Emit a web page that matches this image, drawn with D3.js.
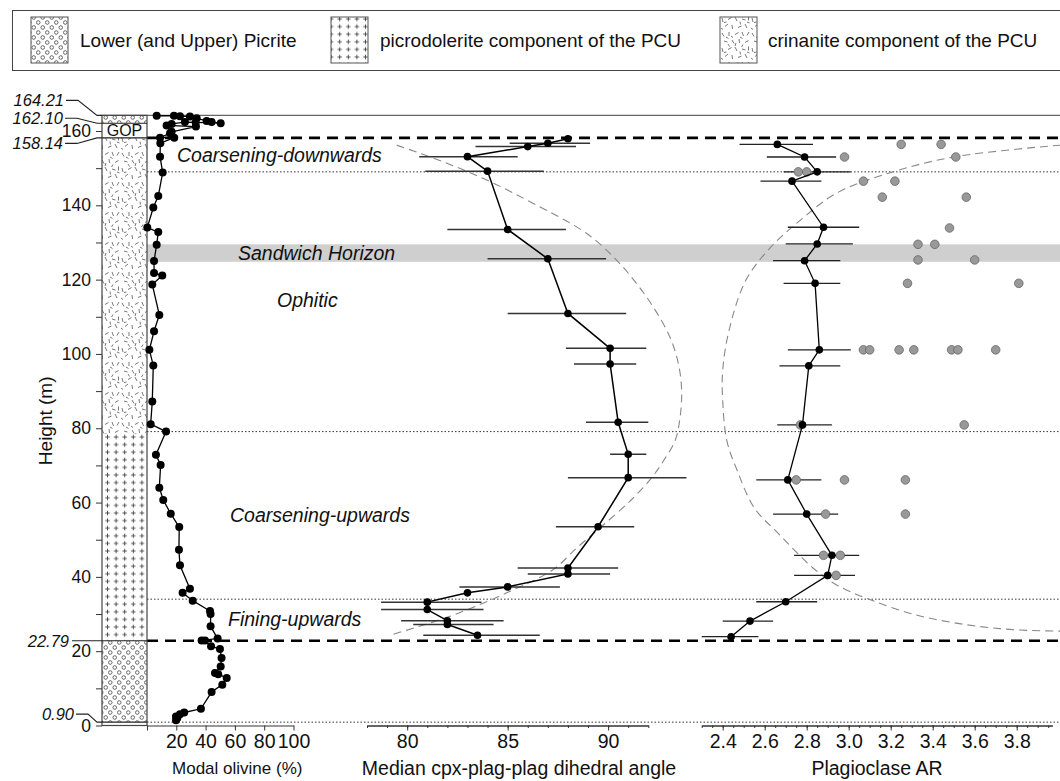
<!DOCTYPE html>
<html><head><meta charset="utf-8">
<script src="https://cdn.jsdelivr.net/npm/d3@7"></script>
<style>
body{margin:0;background:#fff}
text{font-family:"Liberation Sans",Arial,Helvetica,sans-serif;fill:#111}
</style>
</head><body>
<svg id="chart" width="1060" height="781"></svg>
<script>
// ---------- data ----------
// Modal olivine (%) down the section, in sample order
const olivineHeight = [164.1,164.1,164.0,163.9,163.4,162.7,162.4,162.1,162.3,162.4,161.9,161.5,161.2,159.8,159.4,158.2,158.2,156.7,153.1,148.8,142.5,139.4,134.0,132.8,129.4,125.0,121.8,121.1,118.7,110.5,106.1,101.1,96.9,87.2,81.1,79.1,72.9,70.1,64.0,60.7,57.0,53.4,47.3,43.1,36.8,35.7,33.6,30.8,30.0,26.7,23.4,22.9,22.9,21.3,20.6,18.2,15.9,14.1,13.8,12.8,11.0,9.0,4.5,3.5,3.0,2.4,2.0,1.4];
const olivinePct    = [6.6,18.4,22.5,29.3,33.9,40.7,44.1,50.3,33.2,25.9,16.8,13.4,33.4,16.8,15.7,8.9,18.6,9.1,8.9,10.7,7.7,4.3,0.2,7.7,6.6,4.8,4.8,10.4,3.6,8.4,4.8,1.6,4.3,3.6,2.5,13.0,6.1,9.3,8.4,11.1,16.2,22.0,21.8,22.5,29.3,24.3,31.2,43.0,43.4,43.4,48.2,37.3,39.6,43.7,49.8,50.9,50.3,46.4,48.6,54.4,51.4,44.1,36.8,25.4,22.5,19.8,20.7,19.8];

// Median cpx-plag-plag dihedral angle with its range
const angleHeight = [157.9,156.7,155.8,153.1,149.2,133.5,125.6,110.9,101.5,97.3,81.6,73.0,66.7,53.5,42.4,40.8,37.3,35.7,33.2,31.2,28.2,27.2,24.3];
const angleMedian = [88.0,87.0,86.0,83.0,84.0,85.0,87.0,88.0,90.1,90.1,90.5,91.0,91.0,89.5,88.0,88.0,85.0,83.0,81.0,81.0,82.0,82.0,83.5];
const angleLow    = [null,85.1,83.4,80.6,80.9,82.0,84.0,85.0,87.9,88.3,88.9,90.1,88.0,87.4,85.5,86.0,82.6,null,78.7,78.7,79.7,80.3,80.8];
const angleHigh   = [null,89.1,88.4,85.5,86.8,87.9,89.9,90.9,91.9,91.4,92.0,91.9,93.9,91.3,90.5,90.1,87.6,null,83.7,83.8,84.8,84.3,86.6];

// Plagioclase aspect ratio: sample averages with range
const arHeight = [156.4,153.0,149.0,146.5,134.1,129.6,125.1,119.0,101.1,96.8,80.9,66.1,56.9,45.8,40.4,33.3,28.1,23.9];
const arMean   = [2.66,2.79,2.85,2.73,2.88,2.85,2.79,2.84,2.86,2.81,2.78,2.71,2.80,2.92,2.90,2.70,2.53,2.44];
const arLow    = [2.48,2.61,2.69,2.58,2.71,2.70,2.64,2.69,2.71,2.67,2.66,2.56,2.64,2.74,2.74,2.56,2.40,2.30];
const arHigh   = [2.83,2.94,3.01,2.87,3.05,3.02,2.96,2.96,3.01,2.96,2.92,2.87,2.95,3.05,3.03,2.85,2.64,2.57];

// Plagioclase aspect ratio: further individual measurements
const arExtraHeight = [156.4,156.4,153.0,153.0,149.0,149.0,146.5,146.5,142.2,142.2,133.9,129.5,129.5,125.3,125.3,119.0,119.0,101.1,101.1,101.1,101.1,101.1,101.1,101.1,80.9,80.9,66.1,66.1,66.1,56.9,56.9,45.8,45.8,40.4];
const arExtraValue  = [3.25,3.44,2.98,3.51,2.76,2.80,3.07,3.22,3.16,3.56,3.48,3.33,3.41,3.33,3.60,3.28,3.81,3.07,3.10,3.24,3.31,3.49,3.52,3.70,2.77,3.55,2.75,2.98,3.27,2.89,3.27,2.88,2.96,2.94];

// Schematic trends
const angleTrendHeight = [156.2,151.7,146.8,140.5,132.4,125.2,118.9,112.6,104.5,97.3,90.1,82.9,76.6,71.2,66.7,60.4,53.2,47.8,42.0,35.7,29.4,24.3];
const angleTrendValue  = [79.48,81.80,83.96,86.28,88.94,90.43,91.42,92.25,93.08,93.50,93.66,93.58,93.33,92.75,92.17,91.09,89.60,88.44,87.27,84.95,82.13,79.14];
const arTrendHeight = [156.2,153.1,149.0,143.2,136.0,128.8,119.8,106.3,95.5,87.4,76.6,68.5,58.6,51.4,42.4,37.9,33.9,29.9,27.2,25.8,25.4];
const arTrendValue  = [4.01,3.51,3.21,2.94,2.77,2.63,2.51,2.43,2.40,2.40,2.42,2.47,2.55,2.67,2.83,2.94,3.10,3.31,3.55,3.78,4.01];

// Stratigraphy (m)
const columnTop = 164.21, gopTop = 162.10, gopBase = 158.14, pcuBase = 22.79, picriteBase = 0.90;
const crinaniteBase = 78.5;
const dottedHeights = [149.0, 79.1, 34.0, 0.90];
const sandwichBand = [124.8, 129.5];
const heightTicks = d3.range(0, 161, 10);
const olivineTicks = [0,20,40,60,80,100];
const angleTicks = [80,85,90];
const arTicks = [2.4,2.6,2.8,3.0,3.2,3.4,3.6,3.8];

// ---------- scales ----------
const y = d3.scaleLinear().domain([0,160]).range([725.5,131]);
const xOl = d3.scaleLinear().domain([0,100]).range([147,293.5]);
const xAng = d3.scaleLinear().domain([78,92]).range([367,648.3]);
const xAR = d3.scaleLinear().domain([2.3,3.97]).range([701.7,1052.4]);
const colL = 102, colR = xOl(0), right = 1060;

const svg = d3.select("#chart");
const defs = svg.append("defs");

// ---------- fill patterns ----------
const pPic = defs.append("pattern").attr("id","picrite").attr("patternUnits","userSpaceOnUse").attr("width",9).attr("height",10);
pPic.append("rect").attr("width",9).attr("height",10).attr("fill","#fff");
[[2.25,2.5],[6.75,7.5]].forEach(([cx,cy]) => pPic.append("circle").attr("cx",cx).attr("cy",cy).attr("r",1.8)
  .attr("fill","none").attr("stroke","#444").attr("stroke-width",0.8));

const pPlus = defs.append("pattern").attr("id","plus").attr("patternUnits","userSpaceOnUse").attr("width",8.6).attr("height",7.6);
pPlus.append("rect").attr("width",8.6).attr("height",7.6).attr("fill","#fff");
pPlus.append("path").attr("d","M2.1,3.8H6.5M4.3,1.6V6").attr("stroke","#444").attr("stroke-width",0.9);

const pDash = defs.append("pattern").attr("id","dashes").attr("patternUnits","userSpaceOnUse").attr("width",30).attr("height",30);
pDash.append("rect").attr("width",30).attr("height",30).attr("fill","#fff");
const segs = [[2,3,4,6.5],[9,2,9,6],[15,4.5,18.5,2.5],[22,2,23.5,6],[27,5.5,29,2],[4,11,7.5,12],[12,10,14,13.5],[19,9,19.5,13],
  [25,12.5,28.5,10.5],[2,18,3,22],[8,19.5,11.5,17.5],[15,17,17,21],[22,19,25.5,20],[28.5,16.5,28.5,20.5],[5,26.5,8,24],
  [12,25,12.5,29],[18,27.5,21.5,26],[25,24,27,28],[6,7,8.5,8.5],[11,6,13,7.5],[20,7,22.5,8.5],[16,13,15,16],[8,14,9.5,16.5],
  [23,14.5,21.5,17],[4,22.5,6.5,22],[20,21.5,20.5,24.5],[27,22,29.5,23],[1,28,3,29.5]];
pDash.selectAll("line").data(segs).join("line")
  .attr("x1",d=>d[0]).attr("y1",d=>d[1]).attr("x2",d=>d[2]).attr("y2",d=>d[3])
  .attr("stroke","#555").attr("stroke-width",0.8);

// ---------- legend ----------
const legendItems = [
  {fill:"picrite", label:"Lower (and Upper) Picrite", sx:31, tx:80},
  {fill:"plus", label:"picrodolerite component of the PCU", sx:331, tx:380},
  {fill:"dashes", label:"crinanite component of the PCU", sx:720, tx:768}
];
svg.append("rect").attr("x",12.5).attr("y",10.5).attr("width",1070).attr("height",60)
  .attr("fill","none").attr("stroke","#444").attr("stroke-width",1);
const lg = svg.append("g").selectAll("g").data(legendItems).join("g");
lg.append("rect").attr("x",d=>d.sx).attr("y",17).attr("width",37).attr("height",46)
  .attr("fill",d=>`url(#${d.fill})`).attr("stroke","#555").attr("stroke-width",1);
lg.append("text").attr("x",d=>d.tx).attr("y",40).attr("dy","0.35em").attr("font-size",19).text(d=>d.label);

// ---------- background annotations ----------
svg.append("rect").attr("x",colR).attr("y",y(sandwichBand[1])).attr("width",right-colR)
  .attr("height",y(sandwichBand[0])-y(sandwichBand[1])).attr("fill","#cfcfcf");

// top frame line
svg.append("line").attr("x1",colL).attr("x2",right).attr("y1",y(columnTop)).attr("y2",y(columnTop))
  .attr("stroke","#666").attr("stroke-width",1.2);

svg.append("g").selectAll("line").data(dottedHeights).join("line")
  .attr("x1",colR).attr("x2",right).attr("y1",d=>y(d)).attr("y2",d=>y(d))
  .attr("stroke","#333").attr("stroke-width",1).attr("stroke-dasharray","1.5,2");

svg.append("g").selectAll("line").data([gopBase,pcuBase]).join("line")
  .attr("x1",colR).attr("x2",right).attr("y1",d=>y(d)).attr("y2",d=>y(d))
  .attr("stroke","#000").attr("stroke-width",2.6).attr("stroke-dasharray","11,7");

// region labels
const regionLabels = [
  {t:"Coarsening-downwards", x:177, h:153.5},
  {t:"Sandwich Horizon", x:238, h:127.1},
  {t:"Ophitic", x:277, h:114.4},
  {t:"Coarsening-upwards", x:230, h:56.5},
  {t:"Fining-upwards", x:228, h:28.7}
];
svg.append("g").selectAll("text").data(regionLabels).join("text")
  .attr("x",d=>d.x).attr("y",d=>y(d.h)).attr("dy","0.35em").attr("font-size",19.5)
  .attr("font-style","italic").text(d=>d.t);

// ---------- stratigraphic column ----------
const col = svg.append("g");
const units = [
  {b:picriteBase, t:pcuBase, f:"url(#picrite)"},
  {b:pcuBase, t:crinaniteBase, f:"url(#plus)"},
  {b:crinaniteBase, t:gopBase, f:"url(#dashes)"},
  {b:gopBase, t:gopTop, f:"#fff"},
  {b:gopTop, t:columnTop, f:"url(#picrite)"},
  {b:0, t:picriteBase, f:"#fff"}
];
col.selectAll("rect").data(units).join("rect")
  .attr("x",colL).attr("width",colR-colL).attr("y",d=>y(d.t)).attr("height",d=>y(d.b)-y(d.t))
  .attr("fill",d=>d.f);
col.append("rect").attr("x",colL).attr("width",colR-colL).attr("y",y(columnTop)).attr("height",y(0)-y(columnTop))
  .attr("fill","none").attr("stroke","#444").attr("stroke-width",1.2);
col.append("text").attr("x",(colL+colR)/2).attr("y",y((gopBase+gopTop)/2)).attr("dy","0.36em")
  .attr("text-anchor","middle").attr("font-size",16).text("GOP");

// height labels with leader lines
const leaders = [
  {h:164.21, ly:y(164.21)-15, lx:64},
  {h:162.10, ly:y(162.10)-5, lx:63},
  {h:158.14, ly:y(158.14)+5.5, lx:63},
  {h:22.79, ly:y(22.79), lx:69},
  {h:0.90, ly:y(0.90)-8, lx:74}
];
const lead = svg.append("g");
lead.selectAll("path").data(leaders).join("path")
  .attr("d",d => {
    const yy = y(d.h);
    const xEnd = d.h === columnTop ? colL : colR;
    if (Math.abs(d.ly-yy) < 1) return `M${d.lx+3},${yy}H${xEnd}`;
    return `M${d.lx+2},${d.ly}H${d.lx+14}L${colL-5},${yy}H${xEnd}`;
  })
  .attr("fill","none").attr("stroke","#222").attr("stroke-width",1.1);
lead.selectAll("text").data(leaders).join("text")
  .attr("x",d=>d.lx).attr("y",d=>d.ly).attr("dy","0.36em").attr("text-anchor","end")
  .attr("font-size",16.5).attr("font-style","italic").text(d=>d.h.toFixed(2));

// ---------- height axis ----------
const yAxis = svg.append("g").attr("transform",`translate(${colL},0)`)
  .call(d3.axisLeft(y).tickValues(heightTicks).tickSize(6).tickPadding(5)
    .tickFormat(d => d % 20 === 0 ? d : ""));
yAxis.select(".domain").remove();
yAxis.selectAll("line").attr("stroke","#333");
yAxis.selectAll("text").attr("font-size",17.5).attr("font-family","Liberation Sans, Arial, sans-serif").attr("fill","#111");
svg.append("text").attr("transform",`translate(45,${y(82)}) rotate(-90)`).attr("text-anchor","middle")
  .attr("dy","0.35em").attr("font-size",19).text("Height (m)");

// ---------- bottom axes ----------
function styleAxis(g){
  g.select(".domain").attr("stroke","#333");
  g.selectAll(".tick line").attr("stroke","#333");
  g.selectAll(".tick text").attr("font-size",19.5).attr("font-family","Liberation Sans, Arial, sans-serif")
    .attr("fill","#111").attr("y",9).attr("dy","0.71em");
}
const axY = y(0);
svg.append("g").attr("transform",`translate(0,${axY})`)
  .call(d3.axisBottom(xOl).tickValues(olivineTicks).tickSize(5).tickSizeOuter(0).tickFormat(d => d === 0 ? "" : d))
  .call(styleAxis);
svg.append("g").attr("transform",`translate(0,${axY})`)
  .call(d3.axisBottom(xAng).tickValues(d3.range(78,92.01,1)).tickSize(2.5).tickSizeOuter(0).tickFormat(""))
  .call(g => g.selectAll("line").attr("stroke","#333")).call(g=>g.select(".domain").attr("stroke","#333"));
svg.append("g").attr("transform",`translate(0,${axY})`)
  .call(d3.axisBottom(xAng).tickValues(angleTicks).tickSize(5).tickSizeOuter(0))
  .call(styleAxis);
svg.append("g").attr("transform",`translate(0,${axY})`)
  .call(d3.axisBottom(xAR).tickValues(d3.range(2.3,3.96,0.05)).tickSize(2.5).tickSizeOuter(0).tickFormat(""))
  .call(g => g.selectAll("line").attr("stroke","#333")).call(g=>g.select(".domain").attr("stroke","#333"));
svg.append("g").attr("transform",`translate(0,${axY})`)
  .call(d3.axisBottom(xAR).tickValues(arTicks).tickSize(5).tickSizeOuter(0).tickFormat(d3.format(".1f")))
  .call(styleAxis);

const titles = [
  {t:"Modal olivine (%)", x:(xOl(0)+xOl(100))/2+17, fs:17},
  {t:"Median cpx-plag-plag dihedral angle", x:519, fs:19.5},
  {t:"Plagioclase AR", x:877, fs:19.5}
];
svg.append("g").selectAll("text").data(titles).join("text")
  .attr("x",d=>d.x).attr("y",768).attr("dy","0.35em").attr("text-anchor","middle")
  .attr("font-size",d=>d.fs).text(d=>d.t);

// ---------- trend curves ----------
const trendStyle = p => p.attr("fill","none").attr("stroke","#888").attr("stroke-width",1.1).attr("stroke-dasharray","8,5");
svg.append("path").datum(d3.range(angleTrendHeight.length))
  .attr("d", d3.line().curve(d3.curveCatmullRom).x(i=>xAng(angleTrendValue[i])).y(i=>y(angleTrendHeight[i])))
  .call(trendStyle);
svg.append("path").datum(d3.range(arTrendHeight.length))
  .attr("d", d3.line().curve(d3.curveCatmullRom).x(i=>xAR(arTrendValue[i])).y(i=>y(arTrendHeight[i])))
  .call(trendStyle);

// ---------- olivine profile ----------
const olIdx = d3.range(olivineHeight.length);
svg.append("path").datum(olIdx)
  .attr("d", d3.line().x(i=>xOl(olivinePct[i])).y(i=>y(olivineHeight[i])))
  .attr("fill","none").attr("stroke","#000").attr("stroke-width",1.3);
svg.append("g").selectAll("circle").data(olIdx).join("circle")
  .attr("cx",i=>xOl(olivinePct[i])).attr("cy",i=>y(olivineHeight[i])).attr("r",4).attr("fill","#000");

// ---------- dihedral angle profile ----------
const angIdx = d3.range(angleHeight.length);
svg.append("g").selectAll("line").data(angIdx.filter(i=>angleLow[i]!==null)).join("line")
  .attr("x1",i=>xAng(angleLow[i])).attr("x2",i=>xAng(angleHigh[i]))
  .attr("y1",i=>y(angleHeight[i])).attr("y2",i=>y(angleHeight[i]))
  .attr("stroke","#333").attr("stroke-width",1.5);
svg.append("path").datum(angIdx)
  .attr("d", d3.line().x(i=>xAng(angleMedian[i])).y(i=>y(angleHeight[i])))
  .attr("fill","none").attr("stroke","#000").attr("stroke-width",1.5);
svg.append("g").selectAll("circle").data(angIdx).join("circle")
  .attr("cx",i=>xAng(angleMedian[i])).attr("cy",i=>y(angleHeight[i])).attr("r",3.8).attr("fill","#000");

// ---------- plagioclase AR profile ----------
const arIdx = d3.range(arHeight.length);
svg.append("g").selectAll("line").data(arIdx).join("line")
  .attr("x1",i=>xAR(arLow[i])).attr("x2",i=>xAR(arHigh[i]))
  .attr("y1",i=>y(arHeight[i])).attr("y2",i=>y(arHeight[i]))
  .attr("stroke","#222").attr("stroke-width",1.3);
svg.append("g").selectAll("circle").data(d3.range(arExtraHeight.length)).join("circle")
  .attr("cx",i=>xAR(arExtraValue[i])).attr("cy",i=>y(arExtraHeight[i])).attr("r",4.3)
  .attr("fill","#999").attr("stroke","#666").attr("stroke-width",0.8);
svg.append("path").datum(arIdx)
  .attr("d", d3.line().x(i=>xAR(arMean[i])).y(i=>y(arHeight[i])))
  .attr("fill","none").attr("stroke","#000").attr("stroke-width",1.3);
svg.append("g").selectAll("circle.m").data(arIdx).join("circle")
  .attr("cx",i=>xAR(arMean[i])).attr("cy",i=>y(arHeight[i])).attr("r",3.8).attr("fill","#000");
</script>
</body></html>
